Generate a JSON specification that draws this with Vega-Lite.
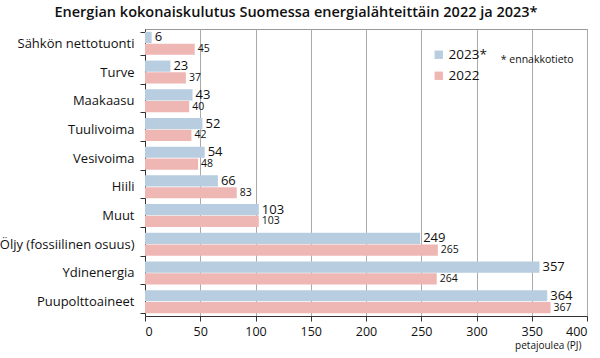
{
  "$schema": "https://vega.github.io/schema/vega-lite/v6.json",
  "width": 442,
  "height": 287,
  "autosize": {"type": "none"},
  "padding": {"left": 145, "top": 29, "right": 13, "bottom": 42},
  "background": "white",
  "title": {"text": "Energian kokonaiskulutus Suomessa energialähteittäin 2022 ja 2023*", "font": "Open Sans", "fontSize": 14.5, "fontWeight": 600, "color": "#111", "anchor": "middle", "offset": 3, "dx": -70},
  "config": {
    "font": "Open Sans",
    "view": {"stroke": "#999", "strokeWidth": 1}
  },
  "datasets": {
    "energy": [
      {"source": "Sähkön nettotuonti", "year": "2023*", "value": 6},
      {"source": "Sähkön nettotuonti", "year": "2022", "value": 45},
      {"source": "Turve", "year": "2023*", "value": 23},
      {"source": "Turve", "year": "2022", "value": 37},
      {"source": "Maakaasu", "year": "2023*", "value": 43},
      {"source": "Maakaasu", "year": "2022", "value": 40},
      {"source": "Tuulivoima", "year": "2023*", "value": 52},
      {"source": "Tuulivoima", "year": "2022", "value": 42},
      {"source": "Vesivoima", "year": "2023*", "value": 54},
      {"source": "Vesivoima", "year": "2022", "value": 48},
      {"source": "Hiili", "year": "2023*", "value": 66},
      {"source": "Hiili", "year": "2022", "value": 83},
      {"source": "Muut", "year": "2023*", "value": 103},
      {"source": "Muut", "year": "2022", "value": 103},
      {"source": "Öljy (fossiilinen osuus)", "year": "2023*", "value": 249},
      {"source": "Öljy (fossiilinen osuus)", "year": "2022", "value": 265},
      {"source": "Ydinenergia", "year": "2023*", "value": 357},
      {"source": "Ydinenergia", "year": "2022", "value": 264},
      {"source": "Puupolttoaineet", "year": "2023*", "value": 364},
      {"source": "Puupolttoaineet", "year": "2022", "value": 367}
    ]
  },
  "layer": [
    {
      "data": {"name": "energy"},
      "mark": {"type": "bar"},
      "encoding": {
        "y": {"field": "source", "type": "nominal", "sort": null,
          "scale": {"paddingInner": 0.2, "paddingOuter": 0.1},
          "axis": {"title": null, "labelFontSize": 13, "labelFontWeight": 500, "labelColor": "#111", "labelPadding": 6, "domainColor": "#333", "tickColor": "#333", "tickSize": 5, "tickBand": "extent", "grid": false}},
        "x": {"field": "value", "type": "quantitative",
          "scale": {"domain": [0, 400]},
          "axis": {"values": [0, 50, 100, 150, 200, 250, 300, 350, 400], "title": "petajoulea (PJ)", "titleFontSize": 10, "titleFontWeight": 500, "titleAnchor": "end", "titleAlign": "right", "titleColor": "#111", "titlePadding": 3, "titleX": 436, "labelFontSize": 12.5, "labelColor": "#111", "labelPadding": 4, "domainColor": "#333", "tickColor": "#333", "tickSize": 5, "gridColor": "#aaa", "gridWidth": 1}},
        "yOffset": {"field": "year", "type": "nominal", "sort": ["2023*", "2022"], "scale": {"paddingInner": 0.05}},
        "color": {"field": "year", "type": "nominal",
          "scale": {"domain": ["2023*", "2022"], "range": ["#b8cde0", "#efb7b4"]},
          "legend": {"orient": "none", "legendX": 287, "legendY": 19, "title": null, "symbolType": "square", "symbolSize": 70, "symbolStrokeWidth": 0, "labelFontSize": 13.5, "labelFontWeight": 500, "labelColor": "#111", "rowPadding": 6, "labelOffset": 3}}
      }
    },
    {
      "data": {"name": "energy"},
      "mark": {"type": "text", "align": "left", "dx": 3, "color": "#111", "fontWeight": 500},
      "encoding": {
        "y": {"field": "source", "type": "nominal", "sort": null},
        "x": {"field": "value", "type": "quantitative"},
        "yOffset": {"field": "year", "type": "nominal", "sort": ["2023*", "2022"], "scale": {"paddingInner": 0.05}},
        "text": {"field": "value", "type": "quantitative"},
        "size": {"condition": {"test": "datum.year === '2022'", "value": 10.5}, "value": 13}
      }
    },
    {
      "data": {"values": [{"note": "* ennakkotieto"}]},
      "mark": {"type": "text", "align": "left", "fontSize": 10.5, "color": "#111", "dy": 17},
      "encoding": {
        "x": {"datum": 322, "type": "quantitative"},
        "y": {"datum": "Sähkön nettotuonti", "type": "nominal"},
        "text": {"field": "note", "type": "nominal"}
      }
    }
  ]
}
